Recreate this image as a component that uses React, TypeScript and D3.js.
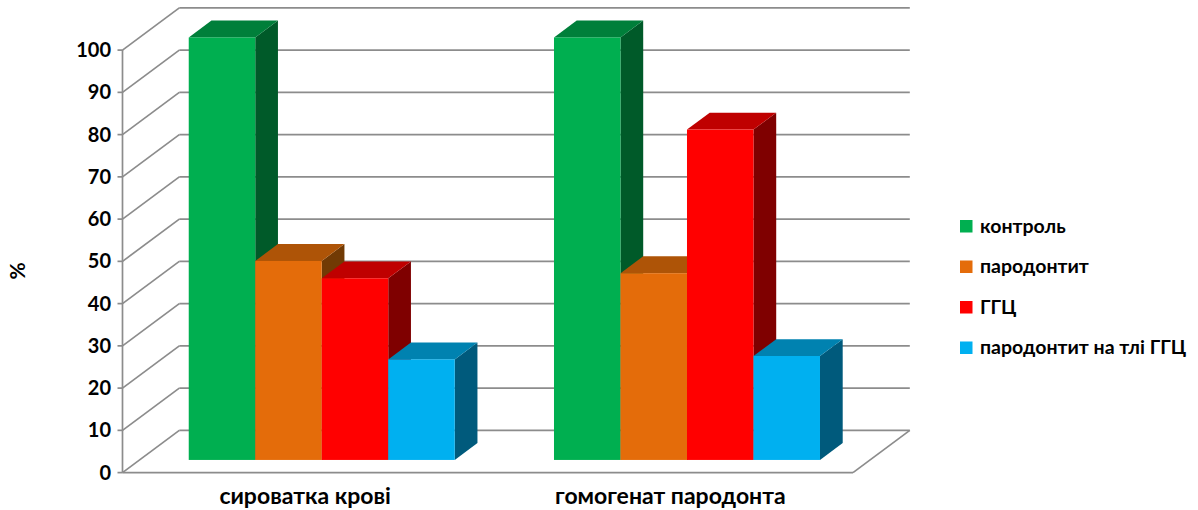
import React from "react";
import * as d3 from "d3";

const groups = ["сироватка крові", "гомогенат пародонта"];
const seriesNames = ["контроль", "пародонтит", "ГГЦ", "пародонтит на тлі ГГЦ"];
const control = [100, 100];
const periodontitis = [47.1, 44.2];
const hhc = [43, 78.2];
const periodontitisHhc = [23.8, 24.6];
const yTicks = d3.range(0, 101, 10);

const frontColors = ["#00AF50", "#E46C0A", "#FF0000", "#00B0F0"];
const topColors = ["#007F3A", "#AE5407", "#BF0000", "#0082B0"];
const sideColors = ["#005A29", "#713A04", "#7F0000", "#005A7C"];
const GRID = "#8C8C8C";
const FONT = "Lato, 'Open Sans', sans-serif";

const W = 1198;
const H = 510;

// Floor front edge and value scale on the front plane of the box
const y = d3.scaleLinear().domain([0, 100]).range([472.6, 50.1]);
const xGroup = d3.scaleBand<string>().domain(groups).range([122.5, 853]);
const xBar = d3.scaleBand<number>().domain([0, 1, 2, 3]).range([49.2, 315.2]);

// Depth axis: 0 is the front plane, 1 the back wall
const depthX = d3.scaleLinear().domain([0, 1]).range([0, 56.8]);
const depthY = d3.scaleLinear().domain([0, 1]).range([0, -42.2]);
const barDepthStart = 0.3;
const barDepthEnd = 0.7;

const pts = (list: [number, number][]) => list.map((p) => p.join(",")).join(" ");

export default function App() {
  const allValues = [control, periodontitis, hhc, periodontitisHhc];
  const right = xGroup.range()[1];
  const left = xGroup.range()[0];
  const dxBack = depthX(1);
  const dyBack = depthY(1);

  return (
    <svg
      width={W}
      height={H}
      viewBox={`0 0 ${W} ${H}`}
      style={{ position: "absolute", left: 0, top: 0, background: "#fff" }}
    >
      {/* back wall gridlines and their run along the side wall */}
      {yTicks.map((t) => (
        <g key={t} stroke={GRID} strokeWidth={1.7} fill="none">
          <line x1={left + dxBack} x2={right + dxBack} y1={y(t) + dyBack} y2={y(t) + dyBack} />
          <line x1={left} y1={y(t)} x2={left + dxBack} y2={y(t) + dyBack} />
          <line x1={left - 5} x2={left} y1={y(t)} y2={y(t)} />
        </g>
      ))}
      {/* floor outline and the vertical value axis */}
      <g stroke={GRID} strokeWidth={1.7} fill="none">
        <line x1={left} x2={left} y1={y(0)} y2={y(100)} />
        <line x1={left} x2={right} y1={y(0)} y2={y(0)} />
        <line x1={right} y1={y(0)} x2={right + dxBack} y2={y(0) + dyBack} />
      </g>

      {/* 3D columns, painted left to right */}
      {groups.map((g, gi) =>
        allValues.map((vals, si) => {
          const v = vals[gi];
          const x0 = xGroup(g)! + xBar(si)! + depthX(barDepthStart);
          const x1 = x0 + xBar.bandwidth();
          const base = y(0) + depthY(barDepthStart);
          const top = base - (y(0) - y(v));
          const dx = depthX(barDepthEnd) - depthX(barDepthStart);
          const dy = depthY(barDepthEnd) - depthY(barDepthStart);
          return (
            <g key={`${g}-${si}`}>
              <polygon
                points={pts([[x1, top], [x1 + dx, top + dy], [x1 + dx, base + dy], [x1, base]])}
                fill={sideColors[si]}
              />
              <polygon
                points={pts([[x0, top], [x1, top], [x1 + dx, top + dy], [x0 + dx, top + dy]])}
                fill={topColors[si]}
              />
              <rect x={x0} y={top} width={x1 - x0} height={base - top} fill={frontColors[si]} />
            </g>
          );
        })
      )}

      {/* value tick labels */}
      {yTicks.map((t) => (
        <text
          key={t}
          x={111}
          y={y(t) + 7}
          textAnchor="end"
          fontFamily={FONT}
          fontWeight={700}
          fontSize={20}
          fill="#000"
        >
          {t}
        </text>
      ))}

      {/* category labels */}
      {groups.map((g) => (
        <text
          key={g}
          x={xGroup(g)! + xGroup.bandwidth() / 2}
          y={504}
          textAnchor="middle"
          fontFamily={FONT}
          fontWeight={700}
          fontSize={23}
          fill="#000"
        >
          {g}
        </text>
      ))}

      {/* value axis title */}
      <text
        transform="translate(25,271) rotate(-90)"
        textAnchor="middle"
        fontFamily={FONT}
        fontWeight={700}
        fontSize={21}
        fill="#000"
      >
        %
      </text>

      {/* legend */}
      {seriesNames.map((name, i) => {
        const ly = d3.scaleLinear().domain([0, 3]).range([226, 347.5])(i);
        return (
          <g key={name}>
            <rect x={960} y={ly - 6} width={12.5} height={12.5} fill={frontColors[i]} />
            <text
              x={980}
              y={ly + 6.5}
              fontFamily={FONT}
              fontWeight={700}
              fontSize={19.5}
              fill="#000"
            >
              {name}
            </text>
          </g>
        );
      })}
    </svg>
  );
}
